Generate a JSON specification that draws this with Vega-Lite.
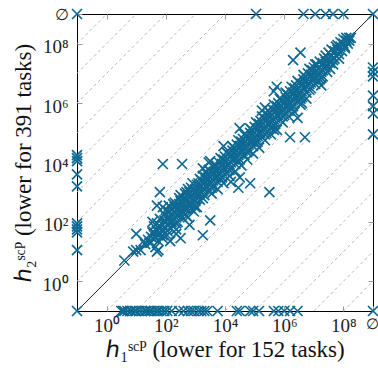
{
  "$schema": "https://vega.github.io/schema/vega-lite/v6.json",
  "width": 296,
  "height": 297,
  "autosize": "none",
  "padding": {"left": 77, "top": 14, "right": 5, "bottom": 59},
  "config": {"view": {"stroke": "black", "strokeWidth": 1}, "font": "Liberation Serif, serif"},
  "resolve": {"axis": {"x": "independent", "y": "independent"}},
  "layer": [
    {
      "data": {"values": [
        {"k": 1, "x": 0.1, "y": 1}, {"k": 1, "x": 1e8, "y": 1e9},
        {"k": 2, "x": 0.1, "y": 1e1}, {"k": 2, "x": 1e7, "y": 1e9},
        {"k": 3, "x": 0.1, "y": 1e2}, {"k": 3, "x": 1e6, "y": 1e9},
        {"k": 4, "x": 0.1, "y": 1e3}, {"k": 4, "x": 1e5, "y": 1e9},
        {"k": 5, "x": 0.1, "y": 1e4}, {"k": 5, "x": 1e4, "y": 1e9},
        {"k": 6, "x": 0.1, "y": 1e5}, {"k": 6, "x": 1e3, "y": 1e9},
        {"k": 7, "x": 0.1, "y": 1e6}, {"k": 7, "x": 1e2, "y": 1e9},
        {"k": 8, "x": 0.1, "y": 1e7}, {"k": 8, "x": 1e1, "y": 1e9},
        {"k": 9, "x": 0.1, "y": 1e8}, {"k": 9, "x": 1, "y": 1e9},
        {"k": -1, "x": 1, "y": 0.1}, {"k": -1, "x": 1e9, "y": 1e8},
        {"k": -2, "x": 1e1, "y": 0.1}, {"k": -2, "x": 1e9, "y": 1e7},
        {"k": -3, "x": 1e2, "y": 0.1}, {"k": -3, "x": 1e9, "y": 1e6},
        {"k": -4, "x": 1e3, "y": 0.1}, {"k": -4, "x": 1e9, "y": 1e5},
        {"k": -5, "x": 1e4, "y": 0.1}, {"k": -5, "x": 1e9, "y": 1e4},
        {"k": -6, "x": 1e5, "y": 0.1}, {"k": -6, "x": 1e9, "y": 1e3},
        {"k": -7, "x": 1e6, "y": 0.1}, {"k": -7, "x": 1e9, "y": 1e2},
        {"k": -8, "x": 1e7, "y": 0.1}, {"k": -8, "x": 1e9, "y": 1e1},
        {"k": -9, "x": 1e8, "y": 0.1}, {"k": -9, "x": 1e9, "y": 1}
      ]},
      "mark": {"type": "line", "color": "#b8b8b8", "strokeWidth": 1, "strokeDash": [3, 3], "clip": true},
      "encoding": {
        "x": {"field": "x", "type": "quantitative", "scale": {"type": "log", "domain": [0.1, 1e9], "nice": false},
          "axis": {"orient": "top", "values": [1, 100, 10000, 1000000, 100000000], "labels": false, "title": null, "domain": false, "grid": false, "tickSize": -5, "tickColor": "#999999"}},
        "y": {"field": "y", "type": "quantitative", "scale": {"type": "log", "domain": [0.1, 1e9], "nice": false},
          "axis": {"orient": "right", "values": [1, 100, 10000, 1000000, 100000000], "labels": false, "title": null, "domain": false, "grid": false, "tickSize": -5, "tickColor": "#999999"}},
        "detail": {"field": "k", "type": "nominal"}
      }
    },
    {
      "data": {"values": [{"x": 0.1, "y": 0.1}, {"x": 1e9, "y": 1e9}]},
      "mark": {"type": "line", "color": "#222222", "strokeWidth": 1},
      "encoding": {
        "x": {"field": "x", "type": "quantitative", "scale": {"type": "log", "domain": [0.1, 1e9], "nice": false}, "axis": null},
        "y": {"field": "y", "type": "quantitative", "scale": {"type": "log", "domain": [0.1, 1e9], "nice": false}, "axis": null}
      }
    },
    {
      "data": {"values": [
        {"h1":0.1,"h2":1.78e4},{"h1":0.1,"h2":1.41e4},{"h1":0.1,"h2":1.12e4},{"h1":0.1,"h2":3.98e3},{"h1":0.1,"h2":1.58e3},{"h1":0.1,"h2":8.91e1},{"h1":0.1,"h2":7.08e1},{"h1":0.1,"h2":5.62e1},{"h1":0.1,"h2":4.47e1},{"h1":0.1,"h2":1.12e1},{"h1":0.1,"h2":0.1},{"h1":0.1,"h2":1e9},
        {"h1":1e9,"h2":1.58e7},{"h1":1e9,"h2":1.12e7},{"h1":1e9,"h2":7.94e6},{"h1":1e9,"h2":1.78e6},{"h1":1e9,"h2":7.94e5},{"h1":1e9,"h2":4.47e5},{"h1":1e9,"h2":8.91e4},{"h1":1e9,"h2":1e9},{"h1":1e9,"h2":0.1},
        {"h1":1.12e5,"h2":1e9},{"h1":4.47e6,"h2":1e9},{"h1":1.12e7,"h2":1e9},{"h1":2.51e7,"h2":1e9},{"h1":4.47e7,"h2":1e9},{"h1":1e8,"h2":1e9},
        {"h1":3.16,"h2":0.1},{"h1":3.55,"h2":0.1},{"h1":3.98,"h2":0.1},{"h1":5.01,"h2":0.1},{"h1":6.31,"h2":0.1},{"h1":7.08,"h2":0.1},{"h1":8.91,"h2":0.1},{"h1":1e1,"h2":0.1},{"h1":1.26e1,"h2":0.1},{"h1":1.58e1,"h2":0.1},{"h1":2e1,"h2":0.1},{"h1":2.24e1,"h2":0.1},{"h1":2.82e1,"h2":0.1},{"h1":3.16e1,"h2":0.1},{"h1":3.98e1,"h2":0.1},{"h1":5.01e1,"h2":0.1},{"h1":5.62e1,"h2":0.1},{"h1":7.08e1,"h2":0.1},{"h1":8.91e1,"h2":0.1},{"h1":1.12e2,"h2":0.1},{"h1":1.58e2,"h2":0.1},{"h1":2.82e2,"h2":0.1},{"h1":3.98e2,"h2":0.1},{"h1":5.62e2,"h2":0.1},{"h1":7.08e2,"h2":0.1},{"h1":8.91e2,"h2":0.1},{"h1":1.26e3,"h2":0.1},{"h1":1.58e3,"h2":0.1},{"h1":2e3,"h2":0.1},{"h1":2.51e3,"h2":0.1},{"h1":5.62e3,"h2":0.1},{"h1":2.51e4,"h2":0.1},{"h1":3.16e4,"h2":0.1},{"h1":7.08e4,"h2":0.1},{"h1":8.91e4,"h2":0.1},{"h1":1.41e5,"h2":0.1},{"h1":4.47e5,"h2":0.1},{"h1":6.31e5,"h2":0.1},{"h1":1e6,"h2":0.1},{"h1":1.58e6,"h2":0.1},{"h1":2.82e6,"h2":0.1},
        {"h1":3.98,"h2":5.01},{"h1":7.94,"h2":1e1},{"h1":1e1,"h2":3.98e1},{"h1":1.41e1,"h2":1.12e1},{"h1":1.78e1,"h2":2.24e1},{"h1":2.51e1,"h2":2.51e1},{"h1":3.55e1,"h2":1e2},{"h1":5.01e1,"h2":3.55e2},{"h1":5.62e1,"h2":1.12e1},{"h1":4.47e1,"h2":1.41e1},{"h1":1.41e2,"h2":2.24e1},{"h1":3.16e2,"h2":2.82e1},{"h1":2.24e2,"h2":3.98e1},{"h1":5.62e2,"h2":1.41e2},{"h1":6.31e2,"h2":7.94e1},{"h1":1e1,"h2":1.12e1},{"h1":2e1,"h2":1.78e1},{"h1":2.82e1,"h2":2e1},{"h1":3.55e1,"h2":2.82e1},{"h1":7.94e1,"h2":3.55e1},{"h1":5.01e1,"h2":1e1},
        {"h1":7.94e1,"h2":8.91e3},{"h1":3.55e2,"h2":8.91e3},{"h1":6.31e1,"h2":1e3},{"h1":7.94e1,"h2":3.16e2},{"h1":3.16e3,"h2":1.12e2},{"h1":1.78e3,"h2":6.31e3},{"h1":3.16e3,"h2":1.12e4},{"h1":1.58e4,"h2":2.24e3},{"h1":3.16e4,"h2":3.16e3},{"h1":7.08e4,"h2":2e3},{"h1":5.01e2,"h2":1e3},{"h1":1.12e3,"h2":3.16e2},{"h1":3.98e2,"h2":5.62e2},{"h1":5.62e5,"h2":3.55e6},{"h1":4.47e5,"h2":2.51e6},{"h1":1.78e5,"h2":5.62e5},{"h1":2e6,"h2":2.82e7},{"h1":3.98e6,"h2":1e6},{"h1":2.82e6,"h2":3.16e5},{"h1":1.58e6,"h2":7.08e4},{"h1":5.01e6,"h2":7.08e4},{"h1":3.16e4,"h2":1.41e5},{"h1":4.47e5,"h2":1.26e5},{"h1":1.12e5,"h2":5.62e4},{"h1":3.55e6,"h2":5.01e7},{"h1":1.58e7,"h2":6.31e6},{"h1":1.78e7,"h2":3.98e6},{"h1":8.91e3,"h2":3.55e4},{"h1":2.82e4,"h2":1.41e3},{"h1":2.82e3,"h2":1e4},{"h1":1.41e3,"h2":1.78e3},{"h1":1.78e3,"h2":3.55e1},{"h1":3.16e5,"h2":1e3},{"h1":3.98e2,"h2":2e2},{"h1":2.24e5,"h2":7.08e5},
        {"h1":3.16e1,"h2":3.16e1},{"h1":3.55e1,"h2":4.47e1},{"h1":3.16e1,"h2":2e1},
        {"h1":3.98e1,"h2":4.47e1},{"h1":4.47e1,"h2":3.16e1},{"h1":3.98e1,"h2":7.08e1},
        {"h1":5.01e1,"h2":5.01e1},{"h1":5.62e1,"h2":3.55e1},{"h1":5.01e1,"h2":8.91e1},{"h1":5.62e1,"h2":2.24e1},
        {"h1":6.31e1,"h2":7.08e1},{"h1":7.08e1,"h2":5.01e1},{"h1":6.31e1,"h2":1.26e2},{"h1":7.08e1,"h2":3.16e1},
        {"h1":7.94e1,"h2":7.94e1},{"h1":8.91e1,"h2":1.12e2},{"h1":7.94e1,"h2":5.01e1},{"h1":8.91e1,"h2":1.78e2},{"h1":7.94e1,"h2":2.82e1},
        {"h1":1e2,"h2":1e2},{"h1":1.12e2,"h2":7.94e1},{"h1":1e2,"h2":1.58e2},{"h1":1.12e2,"h2":5.01e1},{"h1":1e2,"h2":2.51e2},{"h1":1.12e2,"h2":3.55e1},
        {"h1":1.26e2,"h2":1.41e2},{"h1":1.41e2,"h2":1e2},{"h1":1.26e2,"h2":2.24e2},{"h1":1.41e2,"h2":6.31e1},{"h1":1.26e2,"h2":3.55e2},
        {"h1":1.58e2,"h2":1.58e2},{"h1":1.78e2,"h2":1.12e2},{"h1":1.58e2,"h2":2.82e2},{"h1":1.78e2,"h2":7.08e1},{"h1":1.58e2,"h2":1e2},{"h1":1.78e2,"h2":3.98e2},
        {"h1":2e2,"h2":2e2},{"h1":2.24e2,"h2":1.41e2},{"h1":2e2,"h2":3.16e2},{"h1":2.24e2,"h2":8.91e1},{"h1":2e2,"h2":4.47e2},{"h1":2.24e2,"h2":5.62e1},
        {"h1":2.51e2,"h2":2.82e2},{"h1":2.82e2,"h2":2e2},{"h1":2.51e2,"h2":1.58e2},{"h1":2.82e2,"h2":3.98e2},{"h1":2.51e2,"h2":1e2},{"h1":2.82e2,"h2":6.31e2},
        {"h1":3.16e2,"h2":3.16e2},{"h1":3.55e2,"h2":2.24e2},{"h1":3.16e2,"h2":5.01e2},{"h1":3.55e2,"h2":1.41e2},{"h1":3.16e2,"h2":7.94e2},{"h1":3.55e2,"h2":3.98e2},
        {"h1":3.98e2,"h2":3.98e2},{"h1":4.47e2,"h2":2.82e2},{"h1":3.98e2,"h2":6.31e2},{"h1":4.47e2,"h2":1.78e2},{"h1":3.98e2,"h2":3.16e2},{"h1":4.47e2,"h2":8.91e2},
        {"h1":5.01e2,"h2":5.62e2},{"h1":5.62e2,"h2":3.98e2},{"h1":5.01e2,"h2":2.82e2},{"h1":5.62e2,"h2":7.94e2},{"h1":5.01e2,"h2":1.58e2},{"h1":5.62e2,"h2":1.26e3},
        {"h1":6.31e2,"h2":6.31e2},{"h1":7.08e2,"h2":4.47e2},{"h1":6.31e2,"h2":1e3},{"h1":7.08e2,"h2":2.82e2},{"h1":6.31e2,"h2":3.98e2},{"h1":7.08e2,"h2":1.41e3},
        {"h1":7.94e2,"h2":7.94e2},{"h1":8.91e2,"h2":5.62e2},{"h1":7.94e2,"h2":1.26e3},{"h1":8.91e2,"h2":3.55e2},{"h1":7.94e2,"h2":2e3},{"h1":8.91e2,"h2":2.24e2},
        {"h1":1e3,"h2":1.12e3},{"h1":1.12e3,"h2":7.94e2},{"h1":1e3,"h2":5.01e2},{"h1":1.12e3,"h2":1.78e3},{"h1":1e3,"h2":3.16e2},{"h1":1.12e3,"h2":1e3},
        {"h1":1.26e3,"h2":1.26e3},{"h1":1.41e3,"h2":8.91e2},{"h1":1.26e3,"h2":2e3},{"h1":1.41e3,"h2":5.62e2},{"h1":1.26e3,"h2":7.94e2},{"h1":1.41e3,"h2":2.82e3},
        {"h1":1.58e3,"h2":1.58e3},{"h1":1.78e3,"h2":1.12e3},{"h1":1.58e3,"h2":2.51e3},{"h1":1.78e3,"h2":6.31e2},{"h1":1.58e3,"h2":1e3},{"h1":1.78e3,"h2":3.55e3},
        {"h1":2e3,"h2":2.24e3},{"h1":2.24e3,"h2":1.58e3},{"h1":2e3,"h2":1.26e3},{"h1":2.24e3,"h2":3.16e3},{"h1":2e3,"h2":7.94e2},{"h1":2.24e3,"h2":5.01e3},
        {"h1":2.51e3,"h2":2.51e3},{"h1":2.82e3,"h2":1.78e3},{"h1":2.51e3,"h2":3.98e3},{"h1":2.82e3,"h2":1.12e3},{"h1":2.51e3,"h2":1.58e3},{"h1":2.82e3,"h2":5.62e3},
        {"h1":3.16e3,"h2":3.16e3},{"h1":3.55e3,"h2":2.24e3},{"h1":3.16e3,"h2":5.01e3},{"h1":3.55e3,"h2":1.41e3},{"h1":3.16e3,"h2":2e3},{"h1":3.55e3,"h2":8.91e2},
        {"h1":3.98e3,"h2":4.47e3},{"h1":4.47e3,"h2":3.16e3},{"h1":3.98e3,"h2":2.51e3},{"h1":4.47e3,"h2":6.31e3},{"h1":3.98e3,"h2":1.58e3},{"h1":4.47e3,"h2":7.94e3},
        {"h1":5.01e3,"h2":5.01e3},{"h1":5.62e3,"h2":3.55e3},{"h1":5.01e3,"h2":7.94e3},{"h1":5.62e3,"h2":2.24e3},{"h1":5.01e3,"h2":3.16e3},{"h1":5.62e3,"h2":1.26e3},
        {"h1":6.31e3,"h2":6.31e3},{"h1":7.08e3,"h2":4.47e3},{"h1":6.31e3,"h2":1e4},{"h1":7.08e3,"h2":2.82e3},{"h1":6.31e3,"h2":3.98e3},{"h1":7.08e3,"h2":1.41e4},
        {"h1":7.94e3,"h2":8.91e3},{"h1":8.91e3,"h2":6.31e3},{"h1":7.94e3,"h2":5.01e3},{"h1":8.91e3,"h2":1.26e4},{"h1":7.94e3,"h2":3.16e3},{"h1":8.91e3,"h2":2e3},
        {"h1":1e4,"h2":1e4},{"h1":1.12e4,"h2":7.08e3},{"h1":1e4,"h2":1.58e4},{"h1":1.12e4,"h2":4.47e3},{"h1":1e4,"h2":6.31e3},{"h1":1.12e4,"h2":2.24e4},
        {"h1":1.26e4,"h2":1.26e4},{"h1":1.41e4,"h2":8.91e3},{"h1":1.26e4,"h2":2e4},{"h1":1.41e4,"h2":5.62e3},{"h1":1.26e4,"h2":7.94e3},{"h1":1.41e4,"h2":3.55e3},
        {"h1":1.58e4,"h2":1.78e4},{"h1":1.78e4,"h2":1.26e4},{"h1":1.58e4,"h2":1e4},{"h1":1.78e4,"h2":2.51e4},{"h1":1.58e4,"h2":6.31e3},{"h1":1.78e4,"h2":3.55e4},
        {"h1":2e4,"h2":2e4},{"h1":2.24e4,"h2":1.41e4},{"h1":2e4,"h2":3.16e4},{"h1":2.24e4,"h2":8.91e3},{"h1":2e4,"h2":1.26e4},{"h1":2.24e4,"h2":5.01e3},
        {"h1":2.51e4,"h2":2.51e4},{"h1":2.82e4,"h2":1.78e4},{"h1":2.51e4,"h2":3.98e4},{"h1":2.82e4,"h2":1.12e4},{"h1":2.51e4,"h2":1.58e4},{"h1":2.82e4,"h2":5.62e4},
        {"h1":3.16e4,"h2":3.55e4},{"h1":3.55e4,"h2":2.51e4},{"h1":3.16e4,"h2":2e4},{"h1":3.55e4,"h2":5.01e4},{"h1":3.16e4,"h2":1.26e4},{"h1":3.55e4,"h2":7.94e3},
        {"h1":3.98e4,"h2":3.98e4},{"h1":4.47e4,"h2":2.82e4},{"h1":3.98e4,"h2":6.31e4},{"h1":4.47e4,"h2":1.78e4},{"h1":3.98e4,"h2":2.51e4},{"h1":4.47e4,"h2":8.91e4},
        {"h1":5.01e4,"h2":5.01e4},{"h1":5.62e4,"h2":3.55e4},{"h1":5.01e4,"h2":7.94e4},{"h1":5.62e4,"h2":2.24e4},{"h1":5.01e4,"h2":3.16e4},{"h1":5.62e4,"h2":1.26e4},
        {"h1":6.31e4,"h2":7.08e4},{"h1":7.08e4,"h2":5.01e4},{"h1":6.31e4,"h2":3.98e4},{"h1":7.08e4,"h2":1e5},{"h1":6.31e4,"h2":2.51e4},{"h1":7.08e4,"h2":1.41e5},
        {"h1":7.94e4,"h2":7.94e4},{"h1":8.91e4,"h2":5.62e4},{"h1":7.94e4,"h2":1.26e5},{"h1":8.91e4,"h2":3.55e4},{"h1":7.94e4,"h2":5.01e4},{"h1":8.91e4,"h2":2e4},
        {"h1":1e5,"h2":1e5},{"h1":1.12e5,"h2":7.08e4},{"h1":1e5,"h2":1.58e5},{"h1":1.12e5,"h2":4.47e4},{"h1":1e5,"h2":6.31e4},{"h1":1.12e5,"h2":2.24e5},
        {"h1":1.26e5,"h2":1.41e5},{"h1":1.41e5,"h2":1e5},{"h1":1.26e5,"h2":7.94e4},{"h1":1.41e5,"h2":2e5},{"h1":1.26e5,"h2":5.01e4},{"h1":1.41e5,"h2":3.16e4},
        {"h1":1.58e5,"h2":1.58e5},{"h1":1.78e5,"h2":1.12e5},{"h1":1.58e5,"h2":2.51e5},{"h1":1.78e5,"h2":7.08e4},{"h1":1.58e5,"h2":1e5},{"h1":1.78e5,"h2":3.55e5},
        {"h1":2e5,"h2":2e5},{"h1":2.24e5,"h2":1.41e5},{"h1":2e5,"h2":3.16e5},{"h1":2.24e5,"h2":8.91e4},{"h1":2e5,"h2":1.26e5},{"h1":2.24e5,"h2":5.62e4},
        {"h1":2.51e5,"h2":2.82e5},{"h1":2.82e5,"h2":2e5},{"h1":2.51e5,"h2":1.58e5},{"h1":2.82e5,"h2":3.98e5},{"h1":2.51e5,"h2":1e5},{"h1":2.82e5,"h2":5.62e5},
        {"h1":3.16e5,"h2":3.16e5},{"h1":3.55e5,"h2":2.24e5},{"h1":3.16e5,"h2":5.01e5},{"h1":3.55e5,"h2":1.41e5},{"h1":3.16e5,"h2":2e5},{"h1":3.55e5,"h2":8.91e4},
        {"h1":3.98e5,"h2":3.98e5},{"h1":4.47e5,"h2":2.82e5},{"h1":3.98e5,"h2":6.31e5},{"h1":4.47e5,"h2":1.78e5},{"h1":3.98e5,"h2":2.51e5},{"h1":4.47e5,"h2":8.91e5},
        {"h1":5.01e5,"h2":5.62e5},{"h1":5.62e5,"h2":3.98e5},{"h1":5.01e5,"h2":3.16e5},{"h1":5.62e5,"h2":7.94e5},{"h1":5.01e5,"h2":2e5},{"h1":5.62e5,"h2":1.26e5},
        {"h1":6.31e5,"h2":6.31e5},{"h1":7.08e5,"h2":4.47e5},{"h1":6.31e5,"h2":1e6},{"h1":7.08e5,"h2":2.82e5},{"h1":6.31e5,"h2":3.98e5},{"h1":7.08e5,"h2":1.41e6},
        {"h1":7.94e5,"h2":7.94e5},{"h1":8.91e5,"h2":5.62e5},{"h1":7.94e5,"h2":1.26e6},{"h1":8.91e5,"h2":3.55e5},{"h1":7.94e5,"h2":5.01e5},{"h1":8.91e5,"h2":2.24e5},
        {"h1":1e6,"h2":1.12e6},{"h1":1.12e6,"h2":7.94e5},{"h1":1e6,"h2":6.31e5},{"h1":1.12e6,"h2":1.58e6},{"h1":1e6,"h2":3.98e5},{"h1":1.12e6,"h2":2.24e6},
        {"h1":1.26e6,"h2":1.26e6},{"h1":1.41e6,"h2":8.91e5},{"h1":1.26e6,"h2":2e6},{"h1":1.41e6,"h2":5.62e5},{"h1":1.26e6,"h2":7.94e5},{"h1":1.41e6,"h2":3.55e5},
        {"h1":1.58e6,"h2":1.58e6},{"h1":1.78e6,"h2":1.12e6},{"h1":1.58e6,"h2":2.51e6},{"h1":1.78e6,"h2":7.08e5},{"h1":1.58e6,"h2":1e6},{"h1":1.78e6,"h2":3.55e6},
        {"h1":2e6,"h2":2.24e6},{"h1":2.24e6,"h2":1.58e6},{"h1":2e6,"h2":1.26e6},{"h1":2.24e6,"h2":3.16e6},{"h1":2e6,"h2":7.94e5},{"h1":2.24e6,"h2":5.01e5},
        {"h1":2.51e6,"h2":2.51e6},{"h1":2.82e6,"h2":1.78e6},{"h1":2.51e6,"h2":3.98e6},{"h1":2.82e6,"h2":1.12e6},{"h1":2.51e6,"h2":1.58e6},{"h1":2.82e6,"h2":5.62e6},
        {"h1":3.16e6,"h2":3.16e6},{"h1":3.55e6,"h2":2.24e6},{"h1":3.16e6,"h2":5.01e6},{"h1":3.55e6,"h2":1.41e6},{"h1":3.16e6,"h2":2e6},{"h1":3.55e6,"h2":8.91e5},
        {"h1":3.98e6,"h2":4.47e6},{"h1":4.47e6,"h2":3.16e6},{"h1":3.98e6,"h2":2.51e6},{"h1":4.47e6,"h2":6.31e6},{"h1":3.98e6,"h2":1.58e6},{"h1":4.47e6,"h2":8.91e6},
        {"h1":5.01e6,"h2":5.01e6},{"h1":5.62e6,"h2":3.55e6},{"h1":5.01e6,"h2":7.94e6},{"h1":5.62e6,"h2":2.24e6},{"h1":5.01e6,"h2":3.16e6},{"h1":5.62e6,"h2":1.41e6},
        {"h1":6.31e6,"h2":6.31e6},{"h1":7.08e6,"h2":4.47e6},{"h1":6.31e6,"h2":1e7},{"h1":7.08e6,"h2":2.82e6},{"h1":6.31e6,"h2":3.98e6},{"h1":7.08e6,"h2":1.41e7},
        {"h1":7.94e6,"h2":8.91e6},{"h1":8.91e6,"h2":6.31e6},{"h1":7.94e6,"h2":5.01e6},{"h1":8.91e6,"h2":1.26e7},{"h1":7.94e6,"h2":3.16e6},
        {"h1":1e7,"h2":1e7},{"h1":1.12e7,"h2":7.08e6},{"h1":1e7,"h2":1.58e7},{"h1":1.12e7,"h2":4.47e6},{"h1":1e7,"h2":6.31e6},{"h1":1.12e7,"h2":2e7},
        {"h1":1.26e7,"h2":1.26e7},{"h1":1.41e7,"h2":8.91e6},{"h1":1.26e7,"h2":2e7},{"h1":1.41e7,"h2":5.62e6},{"h1":1.26e7,"h2":7.94e6},
        {"h1":1.58e7,"h2":1.58e7},{"h1":1.78e7,"h2":1.12e7},{"h1":1.58e7,"h2":2.51e7},{"h1":1.78e7,"h2":7.08e6},{"h1":1.58e7,"h2":1e7},
        {"h1":2e7,"h2":2.24e7},{"h1":2.24e7,"h2":1.58e7},{"h1":2e7,"h2":1.26e7},{"h1":2.24e7,"h2":3.16e7},{"h1":2e7,"h2":7.94e6},
        {"h1":2.51e7,"h2":2.51e7},{"h1":2.82e7,"h2":1.78e7},{"h1":2.51e7,"h2":3.98e7},{"h1":2.82e7,"h2":1.12e7},{"h1":2.51e7,"h2":1.58e7},
        {"h1":3.16e7,"h2":3.16e7},{"h1":3.55e7,"h2":2.24e7},{"h1":3.16e7,"h2":5.01e7},{"h1":3.55e7,"h2":1.41e7},
        {"h1":3.98e7,"h2":3.98e7},{"h1":4.47e7,"h2":2.82e7},{"h1":3.98e7,"h2":6.31e7},{"h1":4.47e7,"h2":2e7},
        {"h1":5.01e7,"h2":5.62e7},{"h1":5.62e7,"h2":3.98e7},{"h1":5.01e7,"h2":3.16e7},{"h1":5.62e7,"h2":7.94e7},
        {"h1":6.31e7,"h2":6.31e7},{"h1":7.08e7,"h2":4.47e7},{"h1":6.31e7,"h2":8.91e7},{"h1":7.08e7,"h2":3.16e7},
        {"h1":7.94e7,"h2":7.94e7},{"h1":8.91e7,"h2":5.62e7},{"h1":7.94e7,"h2":1.12e8},
        {"h1":1e8,"h2":1e8},{"h1":1.12e8,"h2":7.94e7},{"h1":1e8,"h2":1.41e8},{"h1":1.12e8,"h2":7.08e7},
        {"h1":1.26e8,"h2":1.26e8},{"h1":1.41e8,"h2":1e8},{"h1":1.26e8,"h2":1.58e8},
        {"h1":1.58e8,"h2":1.58e8},{"h1":1.58e8,"h2":1.26e8},{"h1":1.78e8,"h2":1.58e8}
      ]},
      "mark": {"type": "point", "shape": "M-1,-1L1,1M-1,1L1,-1", "filled": false, "color": "#0f6a94", "strokeWidth": 1.7, "size": 100, "opacity": 1, "clip": false},
      "encoding": {
        "x": {"field": "h1", "type": "quantitative", "scale": {"type": "log", "domain": [0.1, 1e9], "nice": false},
          "axis": {"orient": "bottom", "values": [1, 100, 10000, 1000000, 100000000, 1000000000],
            "labelExpr": "datum.value >= 1e9 ? '∅' : datum.value >= 1e8 ? '10⁸' : datum.value >= 1e6 ? '10⁶' : datum.value >= 1e4 ? '10⁴' : datum.value >= 100 ? '10²' : '10⁰'",
            "title": "ℎ₁ˢᶜᴾ (lower for 152 tasks)", "domain": false, "grid": false, "tickSize": -5, "tickColor": "#999999",
            "labelFont": "Liberation Serif, serif", "labelFontSize": {"condition": {"test": "datum.value >= 1e9", "value": 15}, "value": 19}, "labelOffset": {"condition": {"test": "datum.value >= 1e9", "value": -1}, "value": 0},
            "labelColor": "#222222", "labelPadding": 10, "labelFlush": false, "labelOverlap": false,
            "titleFont": "Liberation Serif, serif", "titleFontSize": 23, "titleFontWeight": "normal", "titleColor": "#111111", "titlePadding": 3}},
        "y": {"field": "h2", "type": "quantitative", "scale": {"type": "log", "domain": [0.1, 1e9], "nice": false},
          "axis": {"orient": "left", "values": [1, 100, 10000, 1000000, 100000000, 1000000000],
            "labelExpr": "datum.value >= 1e9 ? '∅' : datum.value >= 1e8 ? '10⁸' : datum.value >= 1e6 ? '10⁶' : datum.value >= 1e4 ? '10⁴' : datum.value >= 100 ? '10²' : '10⁰'",
            "title": "ℎ₂ˢᶜᴾ (lower for 391 tasks)", "domain": false, "grid": false, "tickSize": -5, "tickColor": "#999999",
            "labelFont": "Liberation Serif, serif", "labelFontSize": {"condition": {"test": "datum.value >= 1e9", "value": 16}, "value": 19}, "labelOffset": {"condition": {"test": "datum.value >= 1e9", "value": 0}, "value": 3},
            "labelColor": "#222222", "labelPadding": 14, "labelFlush": false, "labelOverlap": false,
            "titleFont": "Liberation Serif, serif", "titleFontSize": 23, "titleFontWeight": "normal", "titleColor": "#111111", "titlePadding": 7}}
      }
    }
  ]
}
